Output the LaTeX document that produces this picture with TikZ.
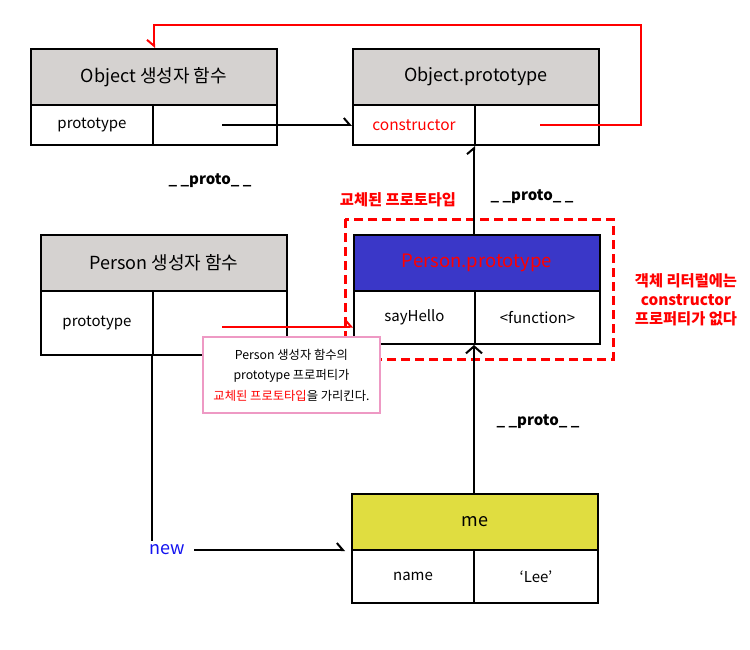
\documentclass[tikz,border=0pt]{standalone}
\usepackage{fontspec}
\setmainfont{Noto Sans CJK KR}
\usetikzlibrary{arrows.meta}
\definecolor{hdrgray}{HTML}{D5D2D0}
\definecolor{ppblue}{HTML}{3A37C8}
\definecolor{meyel}{HTML}{E0DD40}
\definecolor{calloutpink}{HTML}{EE99C4}
\definecolor{newblue}{HTML}{1414F0}
\begin{document}
\begin{tikzpicture}[x=1pt,y=-1pt,
  box/.style={draw=black,line width=2pt,rectangle,inner sep=0pt,anchor=center},
  hdr/.style={box,fill=hdrgray,minimum width=246pt,minimum height=56pt,font=\fontsize{18}{21}\selectfont},
  cell/.style={box,fill=white,font=\fontsize{15}{18}\selectfont},
  conn/.style={line width=2pt},
  harp/.style={-{Straight Barb[harpoon,length=6pt,width=14pt]}},
  harpswap/.style={-{Straight Barb[harpoon,swap,length=6pt,width=14pt]}},
  openarr/.style={-{Straight Barb[length=7pt,width=16pt]}},
  protolbl/.style={font=\bfseries\fontsize{15}{18}\selectfont},
  redlbl/.style={text=red,font=\bfseries\fontsize{15.3}{19}\selectfont,align=center},
]
\useasboundingbox (0,0) rectangle (750,650);
\fill[white] (0,0) rectangle (750,650);

% Object constructor
\node[hdr] (objc) at (154,77) {Object 생성자 함수};
\node[cell,minimum width=122pt,minimum height=40pt] (objcl) at (92,125) {prototype};
\node[cell,minimum width=124pt,minimum height=40pt] (objcr) at (215,125) {};

% Object.prototype
\node[hdr] (objp) at (476,77) {Object.prototype};
\node[cell,minimum width=122pt,minimum height=40pt,text=red,font=\fontsize{15.5}{18}\selectfont] (objpl) at (414,125) {constructor};
\node[cell,minimum width=124pt,minimum height=40pt] (objpr) at (537,125) {};

% Person constructor
\node[hdr] (perc) at (164,263) {Person 생성자 함수};
\node[cell,minimum width=112pt,minimum height=64pt] (percl) at (97,323) {prototype};
\node[cell,minimum width=134pt,minimum height=64pt] (percr) at (220,323) {};

% dashed group
\draw[red,line width=3pt,dash pattern=on 9pt off 5pt] (345,219) rectangle (613,359);

% Person.prototype
\node[hdr,fill=ppblue,text=red,font=\fontsize{18.5}{21}\selectfont] (pp) at (477,263) {Person.prototype};
\node[cell,minimum width=121pt,minimum height=53pt] (ppl) at (414.5,317.5) {sayHello};
\node[cell,minimum width=125pt,minimum height=53pt] (ppr) at (537.5,317.5) {<function>};

% me
\node[hdr,fill=meyel] (me) at (475,522) {me};
\node[cell,minimum width=122pt,minimum height=53pt] (mel) at (413,576.5) {name};
\node[cell,minimum width=124pt,minimum height=53pt] (mer) at (536,576.5) {‘Lee’};

% labels
\node[protolbl] (pl1) at (210,181) {\_ \_proto\_ \_};
\node[protolbl] (pl2) at (532,197) {\_ \_proto\_ \_};
\node[protolbl] (pl3) at (538,422) {\_ \_proto\_ \_};
\node[redlbl] (repl) at (398,200) {교체된 프로토타입};
\node[redlbl] (nocons) at (686,300) {객체 리터럴에는\\constructor\\프로퍼티가 없다};
\node[text=newblue,font=\fontsize{18}{21}\selectfont] (new) at (167,550) {new};

% connectors
\draw[conn,harp] ([xshift=7pt]objcr.center) -- (objpl.west);
\draw[conn,red,harpswap] ([xshift=3pt]objpr.center) -- (641,125) -- (641,25) -| (objc.north);
\draw[conn,harp] (pp.north -| objpr.south west) -- (objpr.south west);
\draw[conn,openarr] (me.north -| ppr.south west) -- (ppr.south west);
\draw[conn] (percr.south west) -- (percr.south west |- new.north);
\coordinate (newstart) at ([xshift=6pt]new.east);
\coordinate (newend) at ([xshift=-6pt]me.south west);
\draw[conn,harp] (newstart) -- (newstart -| newend);
\coordinate (redstart) at ([xshift=2pt,yshift=-3.5pt]percr.center);
\draw[conn,red,harp] (redstart) -- (redstart -| ppl.west);

% callout
\node[draw=calloutpink,line width=1.5pt,fill=white,minimum width=177pt,minimum height=76pt,
  align=center,font=\fontsize{12.3}{20.5}\selectfont,inner sep=0pt] (callout) at (291.5,375)
  {Person 생성자 함수의\\prototype 프로퍼티가\\{\color{red}교체된 프로토타입}을 가리킨다.};
\end{tikzpicture}
\end{document}
